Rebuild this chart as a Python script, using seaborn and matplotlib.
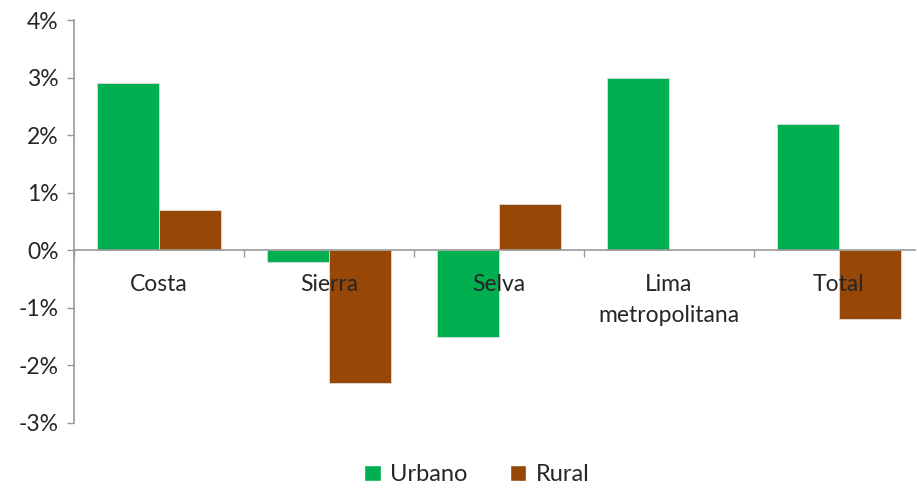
import numpy as np
import pandas as pd
import matplotlib
matplotlib.use('Agg')
import matplotlib.pyplot as plt
import seaborn as sns
from matplotlib.ticker import FuncFormatter, FixedLocator
from matplotlib.patches import Patch

# data (percent)
regions = ['Costa', 'Sierra', 'Selva', 'Lima\nmetropolitana', 'Total']
urbano = [2.9, -0.2, -1.5, 3.0, 2.2]
rural = [0.7, -2.3, 0.8, np.nan, -1.2]
series = ['Urbano', 'Rural']
colors = {'Urbano': '#00B050', 'Rural': '#974706'}

df = pd.DataFrame({
    'Region': regions * 2,
    'Zona': ['Urbano'] * len(regions) + ['Rural'] * len(regions),
    'Valor': urbano + rural,
})

sns.set_style('white')
plt.rcParams['font.family'] = ['Lato', 'DejaVu Sans']

fig = plt.figure(figsize=(9.17, 4.91), dpi=100)
ax = fig.add_axes([0.0807, 0.1385, 0.917, 0.8205])

sns.barplot(data=df, x='Region', y='Valor', hue='Zona', hue_order=series,
            order=regions, palette=colors, width=0.73, saturation=1,
            dodge=True, ax=ax, legend=False, linewidth=0.6, edgecolor='#dddddd')

ax.set_axisbelow(False)
ax.set_ylim(-3, 4)
ax.set_xlim(-0.5, 4.447)
ax.set_yticks(range(-3, 5))
ax.yaxis.set_major_formatter(FuncFormatter(lambda v, p: f'{int(v)}%'))
ax.tick_params(axis='y', labelsize=16.5, length=5, width=1, color='#999999', left=True, pad=6)

# x axis through zero, ticks on category boundaries, labels at centers
ax.spines['bottom'].set_position(('data', 0))
ax.xaxis.set_major_locator(FixedLocator(np.arange(-0.5, len(regions) - 1, 1.0)))
ax.xaxis.set_major_formatter(FuncFormatter(lambda v, p: ''))
ax.xaxis.set_minor_locator(FixedLocator(np.arange(len(regions))))
ax.set_xticklabels(regions, minor=True)
ax.tick_params(axis='x', which='major', length=5, width=1, color='#999999', bottom=True)
ax.tick_params(axis='x', which='minor', length=0, labelsize=16.5, pad=17)
for lbl in ax.get_xticklabels(minor=True):
    lbl.set_verticalalignment('top')
    lbl.set_linespacing(1.6)

for s in ['top', 'right']:
    ax.spines[s].set_visible(False)
for s in ['left', 'bottom']:
    ax.spines[s].set_color('#999999')
    ax.spines[s].set_linewidth(1.2)

ax.set_xlabel('')
ax.set_ylabel('')

handles = [Patch(facecolor=colors[s], label=s) for s in series]
fig.legend(handles=handles, loc='center', bbox_to_anchor=(0.52, 0.033), ncol=2,
           frameon=False, fontsize=17, handlelength=0.7, handleheight=0.7,
           handletextpad=0.4, columnspacing=1.8)

fig.savefig('out.png', dpi=100)
